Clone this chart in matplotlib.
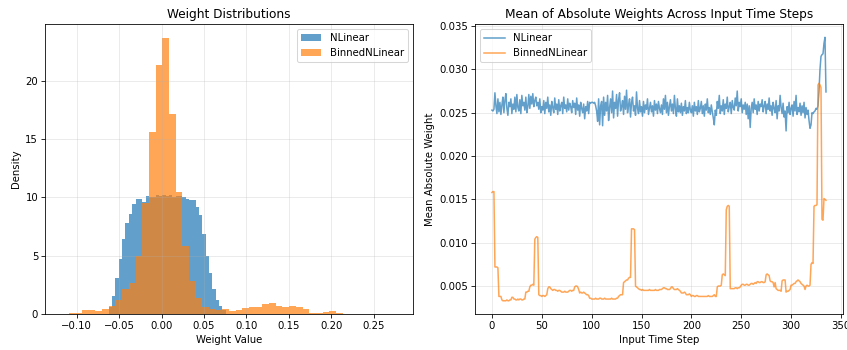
import numpy as np
from matplotlib import pyplot as plt

# histogram bins (shared range, 100 bins for NLinear, 50 for BinnedNLinear)
hist_range = (-0.1173, 0.2763)
nlinear_first_bin = 14
nlinear_density = [0.57, 1.5, 3.1, 4.7, 6.4, 7.8, 8.6, 9.4, 9.9, 9.85, 9.6, 10.1, 10.0, 10.05,
                   10.2, 10.1, 10.25, 10.1, 10.2, 10.0, 10.15, 10.1, 10.05, 9.9, 9.8, 9.8, 9.2,
                   8.5, 6.9, 5.0, 3.5, 2.1, 1.2, 0.7, 0.35]
binned_first_bin = 1
binned_density = [0.05, 0.1, 0.3, 0.35, 0.28, 0.4, 0.65, 1.2, 2.1, 2.7, 5.0, 9.5, 15.6, 21.4,
                  23.7, 17.2, 10.5, 5.8, 2.8, 1.4, 0.6, 0.4, 0.3, 0.45, 0.28, 0.35, 0.5, 0.57,
                  0.63, 0.83, 0.92, 0.69, 0.57, 0.69, 0.57, 0.46, 0.09, 0.09, 0.17, 0.26, 0.11]

# mean absolute weight per input time step, in units of 1e-4
nlinear_mean_e4 = [
    253, 252, 254, 273, 258, 249, 266, 251, 262, 248,
    259, 268, 250, 264, 272, 255, 247, 262, 257, 266,
    249, 260, 254, 268, 251, 271, 256, 252, 265, 249,
    270, 258, 262, 253, 268, 250, 257, 271, 255, 269,
    260, 272, 257, 264, 268, 258, 262, 254, 266, 250,
    257, 253, 264, 249, 262, 255, 268, 251, 259, 247,
    263, 256, 250, 267, 254, 260, 248, 265, 252, 258,
    262, 249, 268, 255, 259, 251, 266, 253, 261, 257,
    250, 264, 256, 261, 248, 267, 253, 259, 246, 262,
    255, 250, 260, 243, 257, 252, 263, 249, 262, 261,
    262, 262, 261, 262, 258, 252, 240, 266, 236, 258,
    263, 235, 268, 247, 262, 252, 270, 241, 256, 266,
    250, 275, 244, 262, 255, 271, 246, 265, 273, 252,
    257, 264, 248, 269, 254, 276, 250, 259, 266, 245,
    262, 268, 252, 258, 247, 274, 255, 249, 264, 251,
    257, 246, 263, 250, 259, 254, 266, 248, 255, 262,
    251, 258, 246, 264, 253, 260, 249, 263, 255, 250,
    259, 248, 266, 254, 270, 250, 262, 247, 257, 265,
    252, 260, 249, 270, 255, 246, 266, 251, 258, 250,
    261, 247, 257, 252, 264, 249, 256, 250, 262, 253,
    250, 258, 246, 262, 252, 257, 248, 264, 251, 255,
    263, 249, 258, 246, 260, 253, 266, 250, 256, 248,
    259, 251, 244, 236, 253, 247, 263, 255, 270, 249,
    258, 252, 265, 248, 260, 255, 268, 251, 257, 262,
    249, 264, 256, 253, 267, 258, 275, 252, 262, 257,
    266, 250, 259, 254, 262, 248, 260, 243, 258, 233,
    255, 262, 250, 266, 254, 259, 248, 263, 252, 260,
    257, 265, 251, 258, 263, 249, 260, 254, 267, 252,
    258, 247, 262, 255, 250, 264, 243, 258, 252, 270,
    256, 249, 261, 245, 252, 229, 257, 250, 262, 248,
    255, 259, 246, 263, 252, 270, 248, 256, 251, 261,
    247, 258, 250, 262, 244, 256, 248, 253, 241, 232,
    236, 250, 249, 251, 252, 255, 254, 258, 275, 300,
    315, 317, 318, 330, 337, 274,
]
binned_mean_e4 = [
    158, 159, 159, 72, 72, 72, 71, 38, 38, 38, 34,
    33, 33, 33, 33, 34, 33, 33, 34, 34, 37, 37,
    35, 35, 34, 34, 35, 34, 35, 35, 34, 34, 35, 35,
    43, 43, 44, 44, 49, 51, 51, 52, 51, 104, 106, 107, 106,
    40, 39, 39, 38, 39, 39, 38, 39, 40, 47, 49, 49, 47,
    46, 45, 46, 46, 45, 45, 44, 45, 45, 44, 43,
    43, 43, 44, 43, 43, 43, 44, 45, 45, 44, 45, 45,
    49, 50, 50, 49, 46, 42, 43, 42, 42, 43, 42, 41,
    40, 40, 39, 36, 36,
    35, 35, 35, 35, 36, 35, 35, 35, 36, 36, 35, 35, 35, 36, 35, 35, 35, 35, 35, 35,
    36, 35, 35, 35, 35, 36, 36,
    38, 39, 40, 40, 40, 54, 55, 56, 57, 57, 59, 60, 60, 116, 116, 116, 115,
    50, 49, 48, 47,
    46, 46, 45, 46, 45, 45, 45, 45, 45, 45, 46, 45, 45, 45, 45, 45, 46, 45, 45, 45,
    46, 46, 46, 47,
    48, 48, 47, 47, 46, 46, 46, 47, 49, 49, 47, 46, 46, 46, 47, 46, 45, 44,
    42, 42, 42, 43, 42, 40, 40, 40, 41, 40,
    38, 39, 39, 38, 38, 39, 39, 38, 38, 38, 38, 38, 38, 38, 38, 38, 38, 39, 38, 38,
    38, 38, 39, 40, 38, 38,
    49, 50, 50, 50, 51, 63, 64, 63, 62, 138, 142, 143, 142,
    47, 47, 47, 47, 47, 48, 48, 47, 48, 48, 49,
    51, 52, 52, 51, 51, 52, 52, 51, 51, 52, 53, 53, 52, 53, 54, 53, 55,
    55, 54, 54, 55, 55, 54, 54, 55, 63, 64, 63, 62, 56, 55, 55, 54, 49, 54,
    47, 46, 45, 45, 45, 44, 56, 57, 57, 57, 43, 44, 44, 45, 46,
    51, 51, 52, 53, 53, 55, 56, 57, 56, 55, 53, 52, 51, 50, 46,
    50, 51, 50, 50, 51, 75, 77, 76, 142, 143, 143, 144,
    282, 284, 282, 279, 127, 126, 151, 150, 149,
]
assert len(nlinear_mean_e4) == 336 and len(binned_mean_e4) == 336

steps = np.arange(len(nlinear_mean_e4))
nlinear_mean = np.array(nlinear_mean_e4) * 1e-4
binned_mean = np.array(binned_mean_e4) * 1e-4

edges_100 = np.linspace(*hist_range, 101)
edges_50 = np.linspace(*hist_range, 51)
w_nl = np.zeros(100)
w_nl[nlinear_first_bin:nlinear_first_bin + len(nlinear_density)] = nlinear_density
w_bn = np.zeros(50)
w_bn[binned_first_bin:binned_first_bin + len(binned_density)] = binned_density

fig, (ax1, ax2) = plt.subplots(1, 2, figsize=(847 / 73, 350 / 73), dpi=73)
fig.subplots_adjust(left=0.0535, right=0.9949, bottom=0.103, top=0.931, wspace=0.17)

ax1.hist((edges_100[:-1] + edges_100[1:]) / 2, bins=edges_100, weights=w_nl, alpha=0.7, label='NLinear')
ax1.hist((edges_50[:-1] + edges_50[1:]) / 2, bins=edges_50, weights=w_bn, alpha=0.7, label='BinnedNLinear')
ax1.set_title('Weight Distributions')
ax1.set_xlabel('Weight Value')
ax1.set_ylabel('Density')
ax1.legend(loc='upper right')
ax1.grid(True, alpha=0.3)

ax2.plot(steps, nlinear_mean, alpha=0.7, label='NLinear')
ax2.plot(steps, binned_mean, alpha=0.7, label='BinnedNLinear')
ax2.set_title('Mean of Absolute Weights Across Input Time Steps')
ax2.set_xlabel('Input Time Step')
ax2.set_ylabel('Mean Absolute Weight')
ax2.legend(loc='upper left')
ax2.grid(True, alpha=0.3)

fig.savefig('out.png')
